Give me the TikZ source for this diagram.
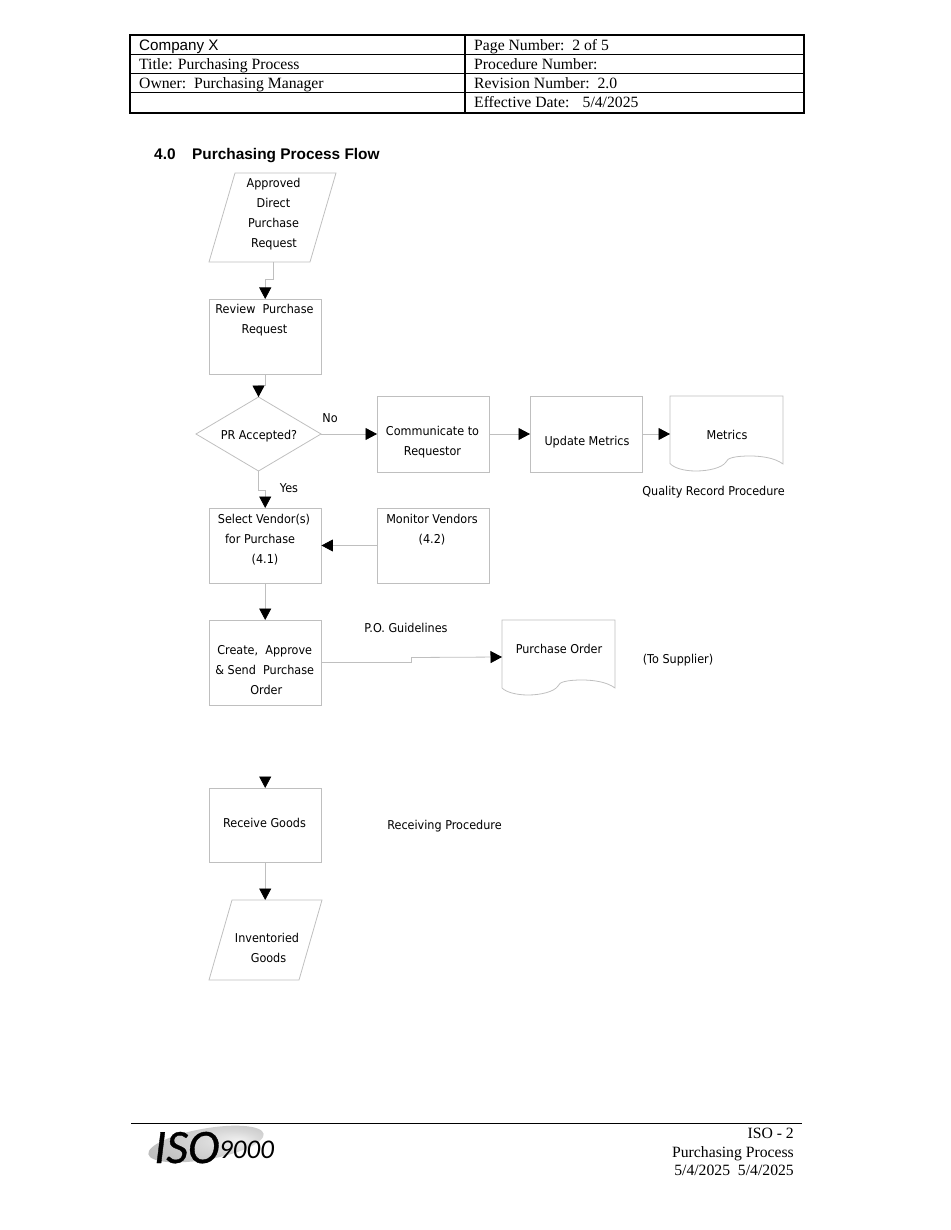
\documentclass[tikz,border=0pt]{standalone}
\usepackage{fontspec}
\setmainfont{Liberation Serif}
\newfontfamily\hdrsans{Liberation Sans}
\newfontfamily\flowfont{DejaVu Sans}[FakeStretch=0.92]
\newfontfamily\logofont{Carlito}
\newfontfamily\logobold{Carlito}[FakeBold=0.7]
\usetikzlibrary{arrows.meta,shapes.geometric}
\definecolor{shapeline}{gray}{0.75}
\pgfdeclareradialshading{logoshade}{\pgfpoint{14bp}{5bp}}{color(0bp)=(gray!12); color(12bp)=(gray!30); color(30bp)=(gray!50); color(50bp)=(gray!62)}
\tikzset{
  flowbox/.style={draw=shapeline,line width=0.8pt,rectangle,outer sep=0pt,inner sep=0pt,fill=white},
  flowdiamond/.style={draw=shapeline,line width=0.8pt,diamond,outer sep=0pt,inner sep=0pt,aspect=1.69,minimum width=125pt,minimum height=74pt},
  flowshape/.style={draw=shapeline,line width=0.8pt,line join=miter},
  conn/.style={draw=shapeline,line width=0.8pt,-{Triangle[length=11.5pt,width=12pt,color=black]}},
  flowtext/.style={font=\flowfont\fontsize{12.2pt}{19.8pt}\selectfont,align=center,inner sep=0pt},
  tablecell/.style={font=\fontsize{15.7pt}{17pt}\selectfont,anchor=base west,inner sep=0pt},
  footertext/.style={font=\fontsize{15.7pt}{18.5pt}\selectfont,anchor=north east,align=right,inner sep=0pt},
  thickrule/.style={line width=2.4pt,black},
  thinrule/.style={line width=1.2pt,black},
}
\begin{document}
\begin{tikzpicture}[x=1pt,y=-1pt]
\useasboundingbox (0,0) rectangle (950,1230);
% header table
\draw[thinrule] (130,54.5) -- (804,54.5) (130,73.5) -- (804,73.5) (130,92.5) -- (804,92.5) (465,35) -- (465,113);
\draw[thickrule] (130,35) rectangle (804,113);
\node[tablecell,font=\hdrsans\fontsize{15.2pt}{17pt}\selectfont] (c1) at (139,50.5) {Company X};
\node[tablecell] (c2) at (139,69.5) {Title: Purchasing Process};
\node[tablecell] (c3) at (139,88.5) {Owner:\ \ Purchasing Manager};
\node[tablecell] (d1) at (474,50.5) {Page Number:\ \ 2 of 5};
\node[tablecell] (d2) at (474,69.5) {Procedure Number:};
\node[tablecell] (d3) at (474,88.5) {Revision Number:\ \ 2.0};
\node[tablecell] (d4) at (474,107.5) {Effective Date:\ \ \ \kern1.5pt 5/4/2025};
% heading
\node[anchor=base west,inner sep=0pt,font=\hdrsans\bfseries\fontsize{15.4pt}{17pt}\selectfont] (h1) at (154,160) {4.0};
\node[anchor=base west,inner sep=0pt,font=\hdrsans\bfseries\fontsize{15.4pt}{17pt}\selectfont] (h2) at (192,160) {Purchasing Process Flow};
% shapes
\draw[flowshape] (235,173) -- (336,173) -- (310,262) -- (209,262) -- cycle;
\coordinate (reqb) at (273,262);
\node[flowbox,minimum width=112.5pt,minimum height=75pt] (review) at (265.2,336.5) {};
\node[flowdiamond] (dec) at (258.5,434) {};
\node[flowbox,minimum width=112pt,minimum height=76pt] (comm) at (433,434) {};
\node[flowbox,minimum width=112pt,minimum height=76pt] (update) at (586,434) {};
\draw[flowshape] (670,463.5) -- (670,396) -- (783,396) -- (783,464) .. controls (775,458) and (762,456) .. (750,456) .. controls (735,456) and (727,458) .. (726,462) .. controls (722,468) and (708,471) .. (696,471) .. controls (684,471) and (674,468) .. (670,463.5);
\coordinate (metw) at (670,434);
\node[flowbox,minimum width=112.5pt,minimum height=75pt] (select) at (265.2,545.5) {};
\node[flowbox,minimum width=112pt,minimum height=75pt] (monitor) at (433,545.5) {};
\node[flowbox,minimum width=112.5pt,minimum height=85pt] (create) at (265.2,662.5) {};
\draw[flowshape] (502,688) -- (502,620) -- (615,620) -- (615,688) .. controls (607,682) and (594,680) .. (582,680) .. controls (567,680) and (559,682) .. (558,686) .. controls (554,692) and (540,695) .. (528,695) .. controls (516,695) and (506,692) .. (502,688);
\coordinate (pow) at (502,657);
\node[flowbox,minimum width=112.5pt,minimum height=74pt] (receive) at (265.2,825) {};
\coordinate (recin) at (265.2,776.5);
\draw[flowshape] (232,900) -- (322,900) -- (299,980) -- (209,980) -- cycle;
\coordinate (invt) at (265.2,900);
% connectors
\draw[conn] (reqb) -- ++(0,17) -| (review.north);
\draw[conn] (review.south) -- ++(0,11) -| (dec.north);
\draw[conn] (dec.east) -- (comm.west);
\draw[conn] (comm.east) -- (update.west);
\draw[conn] (update.east) -- (metw);
\draw[conn] (dec.south) -- ++(0,19) -| (select.north);
\draw[conn] (monitor.west) -- (select.east);
\draw[conn] (select.south) -- (create.north);
\draw[conn] (create.east) -- ++(90,0) -- ++(0,-5) -- (pow);
\draw[conn] (recin) -- (receive.north);
\draw[conn] (receive.south) -- (invt);
% texts
\node[flowtext] (t1) at (273.5,214) {Approved\\Direct\\Purchase\\\hspace*{1pt}Request};
\node[flowtext] (t2) at (264.5,320.5) {Review\ \ Purchase\\Request};
\node[flowtext] (t3) at (259,436) {PR Accepted?};
\node[flowtext] (t4) at (330,418.5) {No};
\node[flowtext] (t5) at (432.5,442) {Communicate to\\Requestor};
\node[flowtext] (t6) at (587,442) {Update Metrics};
\node[flowtext] (t7) at (727,434.5) {Metrics};
\node[flowtext] (t8) at (713.5,492.5) {Quality Record Procedure};
\node[flowtext] (t9) at (289,488) {Yes};
\node[flowtext] (t10) at (264,539.5) {Select Vendor(s)\\for Purchase\rule{8pt}{0pt}\\\hspace*{2pt}(4.1)};
\node[flowtext] (t11) at (432,529.5) {Monitor Vendors\\(4.2)};
\node[flowtext] (t12) at (264.7,670) {Create,\ \ Approve\\\&\ Send\ \ Purchase\\\hspace*{3pt}Order};
\node[flowtext] (t13) at (406,627.5) {P.O. Guidelines};
\node[flowtext] (t14) at (559,648.5) {Purchase Order};
\node[flowtext] (t15) at (678,660) {(To Supplier)};
\node[flowtext] (t16) at (264.5,822.5) {Receive Goods};
\node[flowtext] (t17) at (444.5,826.5) {Receiving Procedure};
\node[flowtext] (t18) at (267,948) {Inventoried\\\hspace*{3pt}Goods};
% footer
\draw[line width=1.2pt,black] (131,1123.5) -- (802,1123.5);
\node[footertext] (f1) at (794,1128) {ISO - 2\\Purchasing Process\\5/4/2025\ \ 5/4/2025};
\begin{scope}[rotate around={10:(206,1144)}]
\shade[shading=logoshade] (206,1144) ellipse [x radius=58.5pt,y radius=15.5pt];
\end{scope}
\node[anchor=base west,inner sep=0pt,font=\logobold\itshape\fontsize{48pt}{48pt}\selectfont] (logo1) at (154,1163) {ISO};
\node[anchor=base west,inner sep=0pt,font=\logofont\itshape\fontsize{27pt}{27pt}\selectfont] (logo2) at (219,1158) {9000};
\end{tikzpicture}
\end{document}
